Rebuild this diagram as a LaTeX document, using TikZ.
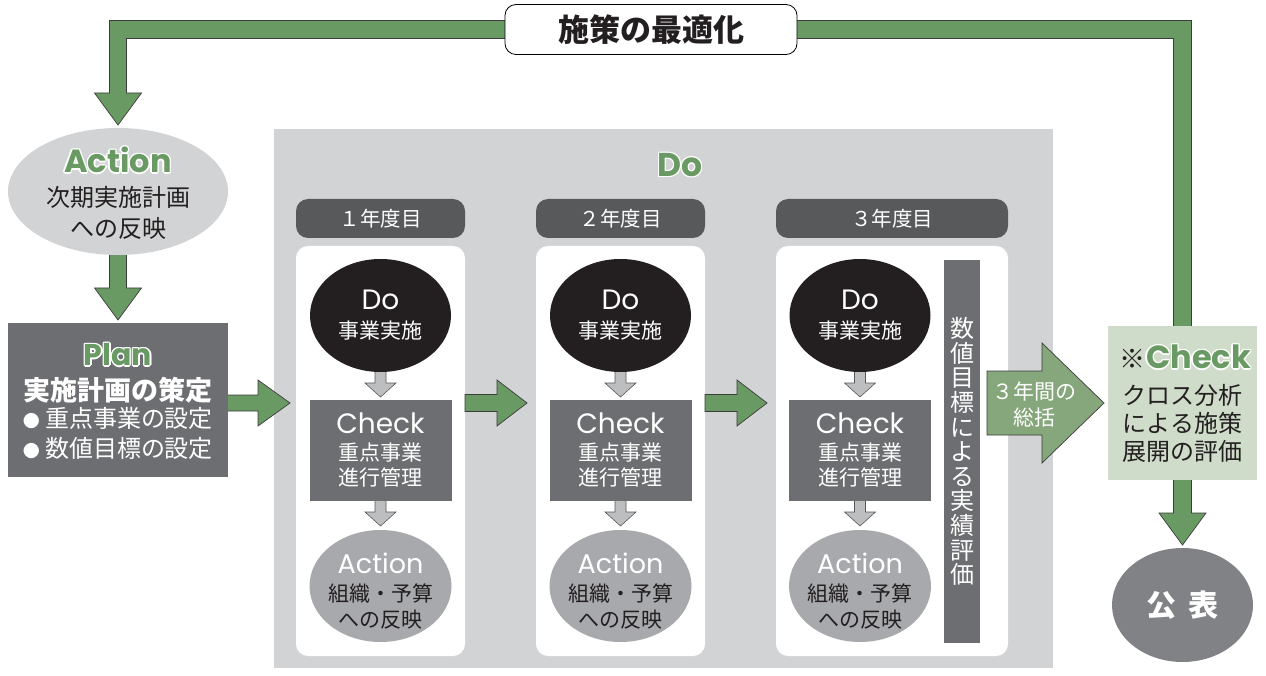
\documentclass[tikz,border=0pt]{standalone}
\usepackage{fontspec}
\setmainfont{Noto Sans CJK JP}
\newfontfamily\lat{Poppins}
\usetikzlibrary{shapes.geometric,calc}
\definecolor{grn}{HTML}{6A9A63}
\definecolor{lgrn}{HTML}{86A77B}
\definecolor{edge}{HTML}{3C3C3C}
\definecolor{regbg}{HTML}{D1D3D4}
\definecolor{hdr}{HTML}{58595B}
\definecolor{boxg}{HTML}{6D6E71}
\definecolor{blk}{HTML}{231F20}
\definecolor{actg}{HTML}{A7A9AC}
\definecolor{sage}{HTML}{CFDCC9}
\definecolor{pubg}{HTML}{808285}
\definecolor{arrg}{HTML}{BCBEC0}
\pgfdeclarelayer{back}\pgfdeclarelayer{mid}\pgfsetlayers{back,mid,main}
% outlined (white halo) coloured text
\newcommand\olt[2]{{\setbox0=\hbox{#2}%
\def\oc##1##2{\rlap{\color{white}\kern##1\raise##2\copy0}}%
\oc{-1.4pt}{0pt}\oc{1.4pt}{0pt}\oc{0pt}{1.4pt}\oc{0pt}{-1.4pt}%
\oc{-1pt}{1pt}\oc{1pt}{1pt}\oc{-1pt}{-1pt}\oc{1pt}{-1pt}%
\textcolor{#1}{\copy0}}}
\newcommand\bul{{\fontsize{17}{17}\selectfont ●}\hspace{5pt}}
% block arrows: #1 style, #2 from, #3 tip, #4 shaft half, #5 head half, #6 head length
\newcommand\blkdown[6]{\path[#1] let \p1=#2, \p2=#3 in (\x2-#4,\y1) -- (\x2-#4,\y2+#6) -- (\x2-#5,\y2+#6) -- (\x2,\y2) -- (\x2+#5,\y2+#6) -- (\x2+#4,\y2+#6) -- (\x2+#4,\y1) -- cycle;}
\newcommand\blkright[6]{\path[#1] let \p1=#2, \p2=#3 in (\x1,\y2+#4) -- (\x2-#6,\y2+#4) -- (\x2-#6,\y2+#5) -- (\x2,\y2) -- (\x2-#6,\y2-#5) -- (\x2-#6,\y2-#4) -- (\x1,\y2-#4) -- cycle;}
\tikzset{
  gfat/.style={fill=grn, draw=edge, line width=0.7pt, line join=miter},
  lfat/.style={fill=lgrn, draw=edge, line width=0.7pt},
  gsm/.style={fill=arrg, draw=hdr, line width=0.6pt},
  hdrbox/.style={fill=hdr, rounded corners=12pt, minimum height=39pt, text=white, font=\fontsize{20.5}{24}\selectfont},
  doel/.style={ellipse, fill=blk, minimum width=141pt, minimum height=113pt},
  chkbox/.style={fill=boxg, minimum width=142pt, minimum height=101pt},
  actel/.style={ellipse, fill=actg, minimum width=142pt, minimum height=112pt},
}
\begin{document}
\begin{tikzpicture}[x=1pt,y=-1pt, every node/.style={inner sep=0pt, outer sep=0pt}]
\useasboundingbox (0,0) rectangle (1266,676);

\begin{pgfonlayer}{back}
\node[fill=regbg, minimum width=779pt, minimum height=539pt] (doreg) at (663.5,398.5) {};
\foreach \n/\cx/\w in {1/380.5/169, 2/620.5/169, 3/892/232} {
  \node[fill=white, rounded corners=12pt, minimum width=\w pt, minimum height=410pt] (pan\n) at (\cx,451) {};
}
\end{pgfonlayer}

% top label
\node[draw=black, line width=0.8pt, fill=white, rounded corners=11pt, minimum width=292pt, minimum height=50pt, font=\bfseries\fontsize{31}{31}\selectfont, text=blk] (opt) at (651,29.5) {施策の最適化};

% left Action
\node[ellipse, fill=regbg, minimum width=220pt, minimum height=127pt] (actL) at (118,191.5) {};
\node (actLT) at ($(actL)+(0,-31.5)$) {\fontsize{32}{32}\lat\bfseries\olt{grn}{Action}};
\node[text=blk, align=center, font=\fontsize{24}{31}\selectfont] (actLJ) at ($(actL)+(0,21)$) {次期実施計画\\への反映};

% Plan
\node[fill=boxg, minimum width=220pt, minimum height=154pt] (plan) at (118,400) {};
\node (planT) at ($(plan)+(0,-45)$) {\fontsize{30}{30}\lat\bfseries\olt{grn}{Plan}};
\node[text=white, font=\bfseries\fontsize{27}{30}\selectfont] (planH) at ($(plan)+(0,-10)$) {実施計画の策定};
\node[text=white, align=center, font=\fontsize{24}{30}\selectfont] (planB) at ($(plan)+(0,33)$) {\bul 重点事業の設定\\\bul 数値目標の設定};

% Do title
\node (doT) at (680,165) {\fontsize{33}{33}\lat\bfseries\olt{grn}{Do}};

% headers
\node[hdrbox, minimum width=169pt] (hd1) at (380.5,218.5) {１年度目};
\node[hdrbox, minimum width=169pt] (hd2) at (620.5,218.5) {２年度目};
\node[hdrbox, minimum width=232pt] (hd3) at (892,218.5) {３年度目};

% columns
\foreach \i/\cx in {1/380.5, 2/620.5, 3/860} {
  \node[doel] (do\i) at (\cx,315.5) {};
  \node[text=white, font=\fontsize{28}{28}\lat] (do\i t) at ($(do\i)+(0,-15.5)$) {Do};
  \node[text=white, font=\fontsize{21}{25}\selectfont] (do\i j) at ($(do\i)+(0,15.5)$) {事業実施};
  \node[chkbox] (ck\i) at (\cx,450.5) {};
  \node[text=white, font=\fontsize{28}{28}\lat] (ck\i t) at ($(ck\i)+(0,-27.5)$) {Check};
  \node[text=white, align=center, font=\fontsize{21}{25}\selectfont] (ck\i j) at ($(ck\i)+(0,15)$) {重点事業\\進行管理};
  \node[actel] (ac\i) at (\cx,586) {};
  \node[text=white, font=\fontsize{27}{27}\lat] (ac\i t) at ($(ac\i)+(0,-23)$) {Action};
  \node[text=blk, align=center, font=\fontsize{21}{26}\selectfont] (ac\i j) at ($(ac\i)+(0,20)$) {組織・予算\\への反映};
  \begin{pgfonlayer}{mid}
  \blkdown{gsm}{(do\i.center)}{($(ck\i.north)+(0,-3)$)}{5.5pt}{15.5pt}{14pt}
  \blkdown{gsm}{(ck\i.center)}{($(ac\i.north)+(0,-4)$)}{5.5pt}{15.5pt}{14pt}
  \end{pgfonlayer}
}

% evaluation bar
\node[fill=boxg, minimum width=36pt, minimum height=383pt] (eval) at (962,451.5) {};
\node[text=white, align=center, font=\fontsize{24}{24.6}\selectfont] (evalT) at (eval) {数\\値\\目\\標\\に\\よ\\る\\実\\績\\評\\価};

% right Check
\node[fill=sage, minimum width=149pt, minimum height=154pt] (chkR) at (1182.5,403) {};
\node (chkRT) at (1185,357) {{\fontsize{26}{26}\selectfont\textcolor{blk}{※}}\kern1pt{\fontsize{32}{32}\lat\bfseries\olt{grn}{Check}}};
\node[text=blk, align=center, font=\fontsize{24}{28}\selectfont] (chkRL) at ($(chkR)+(0,20)$) {クロス分析\\による施策\\展開の評価};

% publication
\node[ellipse, fill=pubg, minimum width=141pt, minimum height=114pt, text=white, font=\bfseries\fontsize{30}{30}\selectfont] (pub) at (1182.5,605) {公\hspace{12pt}表};

% tips
\coordinate (tipP) at (290,403);
\coordinate (tip12) at (527,403);
\coordinate (tip23) at (767,403);
\coordinate (tip3) at ($(chkR.west)+(-4,0)$);

\begin{pgfonlayer}{mid}
% big loop
\path[gfat] let \p1=(chkR.center), \p2=(actL.north), \p3=(opt.center) in
 (\x1-9pt,\y1) -- (\x1-9pt,\y3-9pt) -- (\x2+8.5pt,\y3-9pt) -- (\x2+8.5pt,\y2+35pt) -- (\x2+23.5pt,\y2+35pt) -- (\x2,\y2+3pt) -- (\x2-23.5pt,\y2+35pt) -- (\x2-8.5pt,\y2+35pt) -- (\x2-8.5pt,\y3+9pt) -- (\x1+9pt,\y3+9pt) -- (\x1+9pt,\y1) -- cycle;
\blkdown{gfat}{(actL.center)}{($(plan.north)+(0,-3)$)}{8.5pt}{23.5pt}{32pt}
\blkdown{gfat}{(chkR.center)}{($(pub.north)+(0,-3)$)}{9pt}{23.5pt}{32pt}
\blkright{gfat}{(plan.center)}{(tipP)}{8pt}{23pt}{32pt}
\blkright{gfat}{(pan1.east |- tip12)}{(tip12)}{8.5pt}{23pt}{30pt}
\blkright{gfat}{(pan2.east |- tip23)}{(tip23)}{8.5pt}{23pt}{30pt}
\blkright{lfat}{($(eval.east |- tip3)+(7,0)$)}{(tip3)}{32pt}{60pt}{62pt}
\end{pgfonlayer}
\node[text=white, align=center, font=\fontsize{21}{26}\selectfont] (sumT) at (1034,404) {３年間の\\総括};

\end{tikzpicture}
\end{document}
